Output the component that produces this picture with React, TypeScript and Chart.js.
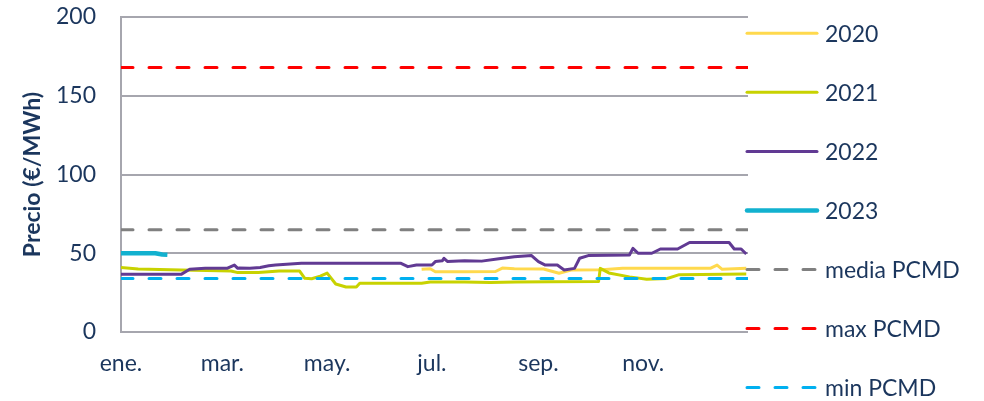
import React, { useEffect, useRef } from 'react';
import { Chart, registerables } from 'chart.js';

Chart.register(...registerables);

// ---- axis data ----
const monthTickDays = [0, 59, 120, 181, 243, 304];
const monthTickLabels = ['ene.', 'mar.', 'may.', 'jul.', 'sep.', 'nov.'];
const yMin = 0;
const yMax = 200;
const yStep = 50;
const xMax = 365;

// ---- series data (day of year, €/MWh) ----
const days2020 = [175, 180, 183, 200, 218, 222, 229, 246, 255, 262, 280, 292, 343, 347, 350, 364];
const vals2020 = [39.8, 40.2, 38.3, 38.2, 38.4, 40.6, 40.2, 40, 37.3, 39.4, 39.6, 40.4, 40.4, 42.5, 39.8, 40.4];

const days2021 = [0, 10, 35, 50, 64, 68, 80, 92, 104, 107, 111, 116, 120, 125, 131, 137, 139, 175, 180, 200, 215, 230, 250, 278, 279, 284, 296, 306, 318, 325, 364];
const vals2021 = [41, 40, 39.4, 39, 38.7, 37.7, 37.8, 38.7, 38.7, 34.1, 33.8, 35.5, 37.4, 30.5, 28.6, 28.6, 30.9, 30.9, 31.7, 31.8, 31.4, 31.8, 31.9, 32, 40.4, 37.5, 35, 33.5, 34, 36.4, 36.8];

const days2022 = [0, 35, 40, 49, 55, 62, 66, 68, 69, 75, 81, 86, 90, 105, 163, 167, 172, 181, 183, 187, 188, 190, 200, 210, 220, 229, 239, 243, 247, 254, 258, 264, 267, 272, 296, 298, 301, 309, 314, 324, 331, 354, 357, 361, 364];
const vals2022 = [36.6, 36.6, 39.8, 40.4, 40.5, 40.5, 42.5, 40.4, 40.6, 40.5, 41, 42, 42.5, 43.6, 43.6, 41.5, 42.5, 42.5, 44.7, 45.2, 46.8, 44.8, 45.2, 45, 46.5, 47.8, 48.5, 44.7, 42.5, 42.5, 39.4, 40.4, 46.8, 48.5, 48.9, 53.1, 50, 50, 52.7, 52.7, 56.8, 56.8, 52.7, 52.7, 49.5];

const days2023 = [0, 20, 24, 27];
const vals2023 = [50, 50, 49.2, 49];

const refDays = [0, 365];
const mediaPCMD = [65, 65];
const maxPCMD = [168, 168];
const minPCMD = [34, 34];

const seriesLabels = ['2020', '2021', '2022', '2023', 'media PCMD', 'max PCMD', 'min PCMD'];

const NAVY = '#1b365d';
const GRID = '#a6a6ae';
const FONT = 'Lato';

const toPoints = (xs: number[], ys: number[]) => xs.map((x, i) => ({ x, y: ys[i] }));

const sideLegend = {
  id: 'sideLegend',
  afterDraw(chart: any) {
    const { ctx, chartArea } = chart;
    const x0 = chartArea.right - 1;
    const x1 = x0 + 70;
    const tx = x1 + 8;
    const top = 33.3;
    const step = 59.05;
    ctx.save();
    chart.data.datasets.forEach((ds: any, i: number) => {
      const y = top + i * step;
      ctx.beginPath();
      ctx.strokeStyle = ds.borderColor;
      ctx.lineWidth = ds.borderWidth;
      ctx.lineCap = 'round';
      ctx.setLineDash(ds.borderDash || []);
      ctx.moveTo(x0, y);
      ctx.lineTo(x1, y);
      ctx.stroke();
      ctx.setLineDash([]);
      ctx.fillStyle = NAVY;
      ctx.font = `23px ${FONT}`;
      ctx.textBaseline = 'middle';
      ctx.textAlign = 'left';
      ctx.fillText(ds.label, tx, y + 1);
    });
    ctx.restore();
  },
};

export default function App() {
  const ref = useRef<HTMLCanvasElement | null>(null);

  useEffect(() => {
    if (!ref.current) return;
    const dash = [12, 16];
    const chart = new Chart(ref.current, {
      type: 'line',
      data: {
        datasets: [
          { label: seriesLabels[0], data: toPoints(days2020, vals2020), borderColor: '#ffd94d', borderWidth: 3, order: 6 },
          { label: seriesLabels[1], data: toPoints(days2021, vals2021), borderColor: '#c8d200', borderWidth: 3, order: 5 },
          { label: seriesLabels[2], data: toPoints(days2022, vals2022), borderColor: '#613a93', borderWidth: 3, order: 4 },
          { label: seriesLabels[3], data: toPoints(days2023, vals2023), borderColor: '#12b1cf', borderWidth: 4.5, order: 3 },
          { label: seriesLabels[4], data: toPoints(refDays, mediaPCMD), borderColor: '#808080', borderWidth: 3, borderDash: dash, borderCapStyle: 'round', order: 2 },
          { label: seriesLabels[5], data: toPoints(refDays, maxPCMD), borderColor: '#ff0000', borderWidth: 3, borderDash: dash, borderCapStyle: 'round', order: 1 },
          { label: seriesLabels[6], data: toPoints(refDays, minPCMD), borderColor: '#00b0f0', borderWidth: 3, borderDash: dash, borderCapStyle: 'round', order: 0 },
        ] as any,
      },
      options: {
        responsive: false,
        animation: false,
        parsing: false as any,
        layout: { padding: { top: 17, right: 236, left: 0, bottom: 0 } },
        elements: {
          point: { radius: 0 },
          line: { tension: 0, borderJoinStyle: 'round', fill: false },
        },
        plugins: {
          legend: { display: false },
          tooltip: { enabled: false },
          title: { display: false },
        },
        scales: {
          x: {
            type: 'linear',
            min: 0,
            max: xMax,
            grid: { display: false },
            border: { display: false },
            afterBuildTicks: (scale: any) => {
              scale.ticks = monthTickDays.map((v) => ({ value: v }));
            },
            afterFit: (scale: any) => {
              scale.height = 401 - 332;
            },
            ticks: {
              autoSkip: false,
              maxRotation: 0,
              padding: 10,
              color: NAVY,
              font: { family: FONT, size: 23 },
              callback: (_v: any, i: number) => monthTickLabels[i],
            },
          },
          y: {
            min: yMin,
            max: yMax,
            grid: { color: GRID, lineWidth: 2, drawTicks: false },
            border: { display: true, color: GRID, width: 2 },
            afterFit: (scale: any) => {
              scale.width = 121;
              scale.paddingTop = 14;
              scale.paddingBottom = 14;
            },
            ticks: {
              stepSize: yStep,
              padding: 25,
              color: NAVY,
              font: { family: FONT, size: 23 },
            },
            title: {
              display: true,
              text: 'Precio (€/MWh)',
              color: NAVY,
              font: { family: FONT, size: 23, weight: 'bold' },
              padding: { top: 19, bottom: 0 },
            },
          },
        },
      } as any,
      plugins: [sideLegend],
    });
    return () => chart.destroy();
  }, []);

  return (
    <div style={{ position: 'absolute', left: 0, top: 0, width: 984, height: 401, background: '#fff' }}>
      <canvas ref={ref} width={984} height={401} />
    </div>
  );
}
